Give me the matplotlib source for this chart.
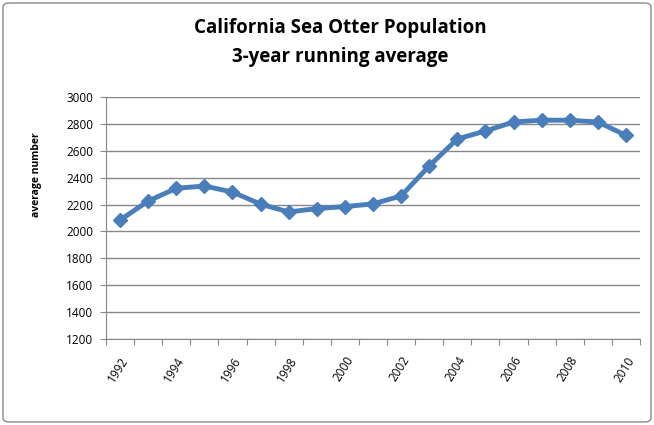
import numpy as np
import matplotlib.pyplot as plt
from matplotlib.patches import FancyBboxPatch

# California sea otter, 3-year running average
years = list(range(1992, 2011))
population = [2085, 2226, 2321, 2338, 2293, 2203, 2145, 2170, 2185, 2205,
              2264, 2487, 2688, 2747, 2814, 2828, 2827, 2814, 2715]
yticks = [1200, 1400, 1600, 1800, 2000, 2200, 2400, 2600, 2800, 3000]

plt.rcParams['font.family'] = ['Open Sans', 'DejaVu Sans']

fig = plt.figure(figsize=(6.54, 4.25), dpi=100)
ax = fig.add_axes([106/654, 1-339/425, 534/654, 242/425])

x = np.arange(len(years))
ax.plot(x, population, color='#4a7ebb', linewidth=3.5, marker='D', markersize=7,
        markeredgecolor='#4a7ebb', markerfacecolor='#4a7ebb')

ax.set_xlim(-0.5, len(years) - 0.5)
ax.set_ylim(1200, 3000)
ax.set_yticks(yticks)
ax.set_yticklabels([str(v) for v in yticks], fontsize=8.5)
ax.yaxis.grid(True, color='#888888', linewidth=1)
ax.set_axisbelow(True)

# ticks between categories, labels every other year
ax.set_xticks(np.arange(len(years) + 1) - 0.5)
ax.set_xticklabels([])
ax.set_xticks(x[::2], minor=True)
ax.set_xticklabels([str(y) for y in years[::2]], minor=True, rotation=58,
                   ha='right', rotation_mode='anchor', fontsize=8.5)
ax.tick_params(axis='x', which='major', length=4, color='#888888', direction='out')
ax.tick_params(axis='x', which='minor', length=0, pad=11)
ax.tick_params(axis='y', length=4, color='#888888', direction='out', pad=5)

for s in ['top', 'right']:
    ax.spines[s].set_visible(False)
for s in ['left', 'bottom']:
    ax.spines[s].set_color('#888888')

ax.set_ylabel('average number', fontsize=7.5, fontweight='bold')
ax.yaxis.set_label_coords(-0.12, 0.68)

fig.text(0.5 + 0.02, 1-28/425, 'California Sea Otter Population', ha='center', va='center',
         fontsize=13.5, fontweight='bold')
fig.text(0.5 + 0.02, 1-57/425, '3-year running average', ha='center', va='center',
         fontsize=13.5, fontweight='bold')

border = FancyBboxPatch((3/654, 3/425), 648/654, 419/425, boxstyle='round,pad=0,rounding_size=0.01',
                        transform=fig.transFigure, facecolor='none', edgecolor='#888888', linewidth=1)
fig.patches.append(border)

fig.savefig('out.png', dpi=100)
